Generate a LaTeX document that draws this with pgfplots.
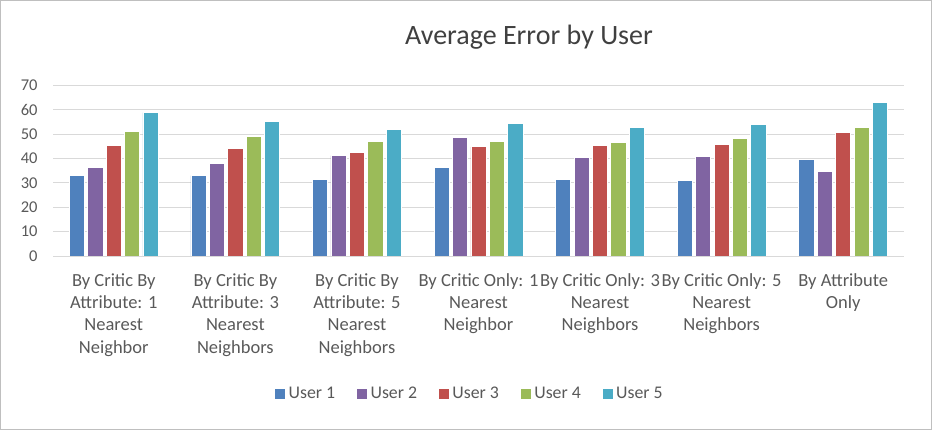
\documentclass[border=0pt]{standalone}
\usepackage{pgfplots}
\pgfplotsset{compat=1.18}
\usepackage{pgfplotstable}
\usepackage{fontspec}
\setmainfont{Carlito}

\definecolor{uone}{HTML}{4F81BD}
\definecolor{utwo}{HTML}{8064A2}
\definecolor{uthree}{HTML}{C0504D}
\definecolor{ufour}{HTML}{9BBB59}
\definecolor{ufive}{HTML}{4BACC6}
\definecolor{txt}{HTML}{595959}
\definecolor{gridc}{HTML}{D9D9D9}

% average error, groups 0..6, users 1..5
\pgfplotstableread{
x u1 u2 u3 u4 u5
0 33.0 36.2 45.3 51.0 58.8
1 33.0 37.9 44.0 48.9 55.1
2 31.3 41.2 42.5 46.9 51.8
3 36.2 48.5 44.8 46.9 54.3
4 31.3 40.3 45.3 46.5 52.6
5 30.9 40.7 45.7 48.1 53.9
6 39.5 34.6 50.6 52.6 62.9
}\errtable

\begin{document}
\begin{tikzpicture}
\useasboundingbox (0,0) rectangle (932bp,430bp);
\draw[black!25] (0.5bp,0.5bp) rectangle (931.5bp,429.5bp);
\begin{axis}[
  at={(53bp,174bp)}, anchor=south west,
  scale only axis,
  width=851bp, height=170.7bp,
  xmin=-0.5, xmax=6.5,
  ymin=0, ymax=70,
  enlarge x limits=false,
  enlarge y limits=false,
  ytick={0,10,...,70},
  xtick={0,...,6},
  xticklabels={
    {By Critic By\\Attribute: 1\\Nearest\\Neighbor},
    {By Critic By\\Attribute: 3\\Nearest\\Neighbors},
    {By Critic By\\Attribute: 5\\Nearest\\Neighbors},
    {By Critic Only: 1\\Nearest\\Neighbor},
    {By Critic Only: 3\\Nearest\\Neighbors},
    {By Critic Only: 5\\Nearest\\Neighbors},
    {By Attribute\\Only}},
  major tick length=0pt,
  axis line style={draw=none},
  ymajorgrids,
  grid style={gridc, line width=1bp},
  /pgf/number format/assume math mode=true,
  yticklabel style={font=\fontsize{16.5bp}{20bp}\selectfont, text=txt, xshift=-12bp},
  xticklabel style={font=\fontsize{18.5bp}{22.3bp}\selectfont, text=txt, align=center, yshift=-14bp},
  ybar=3.2bp,
  bar width=15.2bp,
  every axis plot/.append style={draw=white, line width=0.8bp},
  legend columns=5,
  legend style={at={(0.49,-0.808)}, anchor=center, draw=none,
    font=\fontsize{17.8bp}{20bp}\selectfont, text=txt,
    /tikz/every even column/.append style={column sep=20bp}},
  legend image code/.code={\fill[#1, draw=none] (0bp,-5bp) rectangle (10bp,5bp);
    \path (11bp,0bp);},
]
\addplot[fill=uone] table[x=x, y=u1] {\errtable};
\addplot[fill=utwo] table[x=x, y=u2] {\errtable};
\addplot[fill=uthree] table[x=x, y=u3] {\errtable};
\addplot[fill=ufour] table[x=x, y=u4] {\errtable};
\addplot[fill=ufive] table[x=x, y=u5] {\errtable};
\legend{User 1, User 2, User 3, User 4, User 5}
\end{axis}
\node[text=black!75, font=\fontsize{28bp}{32bp}\selectfont] at (529bp,393bp) {Average Error by User};
\end{tikzpicture}
\end{document}
